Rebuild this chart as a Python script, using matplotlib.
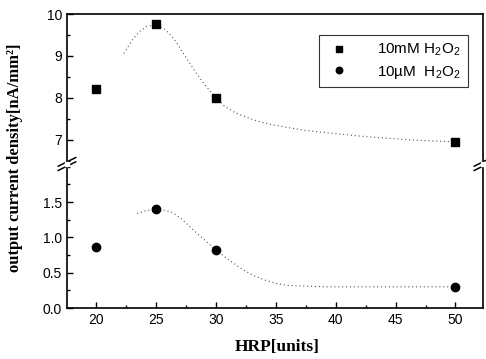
import matplotlib
matplotlib.use("Agg")
import matplotlib.pyplot as plt
from matplotlib.ticker import MultipleLocator, FormatStrFormatter

plt.rcParams['font.family'] = ['Liberation Sans', 'DejaVu Sans']
plt.rcParams['mathtext.default'] = 'regular'

# measured points
hrp = [20, 25, 30, 50]
mM_10 = [8.2, 9.75, 8.0, 6.95]
uM_10 = [0.86, 1.40, 0.82, 0.30]

# smooth guide curves
fit_mM_x = [22.3, 23.0, 23.6, 24.2, 25.0, 25.8, 26.5, 27.3, 28.2, 29.0, 30.0, 30.7,
            31.5, 32.5, 33.5, 34.5, 36.0, 37.5, 39.5, 41.5, 43.5, 46.0, 48.0, 50.0]
fit_mM_y = [9.06, 9.38, 9.58, 9.70, 9.75, 9.62, 9.40, 9.05, 8.65, 8.33, 8.00, 7.80,
            7.66, 7.54, 7.44, 7.37, 7.29, 7.22, 7.16, 7.10, 7.05, 7.00, 6.97, 6.95]
fit_uM_x = [23.4, 24.2, 25.0, 25.8, 26.4, 27.2, 28.0, 29.0, 30.0, 31.0, 32.0, 33.0,
            34.0, 35.0, 36.0, 37.5, 39.0, 42.0, 45.0, 48.0, 50.0]
fit_uM_y = [1.34, 1.38, 1.40, 1.38, 1.35, 1.25, 1.12, 0.97, 0.82, 0.69, 0.57, 0.47,
            0.40, 0.35, 0.32, 0.31, 0.30, 0.30, 0.30, 0.30, 0.30]

fig = plt.figure(figsize=(4.86, 3.59), dpi=100)
L, R = 67 / 486, 483 / 486
top, mid, bot = 1 - 14 / 359, 1 - 164 / 359, 1 - 308 / 359
ax_hi = fig.add_axes([L, mid, R - L, top - mid])
ax_lo = fig.add_axes([L, bot, R - L, mid - bot])

for ax in (ax_hi, ax_lo):
    ax.set_xlim(17.55, 52.3)
    for s in ax.spines.values():
        s.set_linewidth(1.2)
    ax.tick_params(which='both', direction='in', labelsize=10, width=1.0)
    ax.tick_params(which='major', length=4)
    ax.tick_params(which='minor', length=2.5)
    ax.xaxis.set_major_locator(MultipleLocator(5))
    ax.xaxis.set_minor_locator(MultipleLocator(2.5))

ax_hi.plot(fit_mM_x, fit_mM_y, linestyle=(0, (1, 2.5)), color='#555555', linewidth=0.8)
ax_hi.plot(hrp, mM_10, 's', color='black', markersize=5.5, label='10mM H$_2$O$_2$')
ax_hi.plot([], [], 'o', color='black', markersize=5.5, label='10\u00b5M  H$_2$O$_2$')
ax_lo.plot(fit_uM_x, fit_uM_y, linestyle=(0, (1, 2.5)), color='#555555', linewidth=0.8)
ax_lo.plot(hrp, uM_10, 'o', color='black', markersize=6)

ax_hi.set_ylim(6.42, 10)
ax_hi.yaxis.set_major_locator(MultipleLocator(1))
ax_hi.yaxis.set_minor_locator(MultipleLocator(0.5))
ax_hi.spines['bottom'].set_visible(False)
ax_hi.tick_params(axis='x', which='both', bottom=False, labelbottom=False)

ax_lo.set_ylim(0, 2.04)
ax_lo.yaxis.set_major_locator(MultipleLocator(0.5))
ax_lo.yaxis.set_minor_locator(MultipleLocator(0.25))
ax_lo.yaxis.set_major_formatter(FormatStrFormatter('%.1f'))
ax_lo.spines['top'].set_visible(False)
ax_lo.set_yticks([0, 0.5, 1.0, 1.5])

# break marks
for xf in (L, R):
    for dy in (-0.006, 0.006):
        fig.lines.append(plt.Line2D([xf - 0.018, xf + 0.018], [mid + dy - 0.012, mid + dy + 0.012],
                                    transform=fig.transFigure, color='black', linewidth=1.1))
    fig.patches.append(plt.Rectangle((xf - 0.004, mid - 0.006), 0.008, 0.012,
                                     transform=fig.transFigure, color='white', zorder=5))

leg = ax_hi.legend(loc='upper right', bbox_to_anchor=(0.964, 0.86), borderaxespad=0,
                   fontsize=11, frameon=True, fancybox=False, edgecolor='black',
                   handletextpad=1.6, borderpad=0.45, labelspacing=0.35, handlelength=1.8,
                   markerscale=0.85)
leg.get_frame().set_linewidth(0.8)

fig.text(15 / 486, 1 - 158 / 359, 'output current density[nA/mm\u00b2]', rotation=90,
         ha='center', va='center', fontsize=12, fontweight='bold', family='Liberation Serif')
fig.text(277 / 486, 1 - 347 / 359, 'HRP[units]', ha='center', va='center',
         fontsize=12.5, fontweight='bold', family='Liberation Serif')

fig.savefig('out.png', dpi=100)
